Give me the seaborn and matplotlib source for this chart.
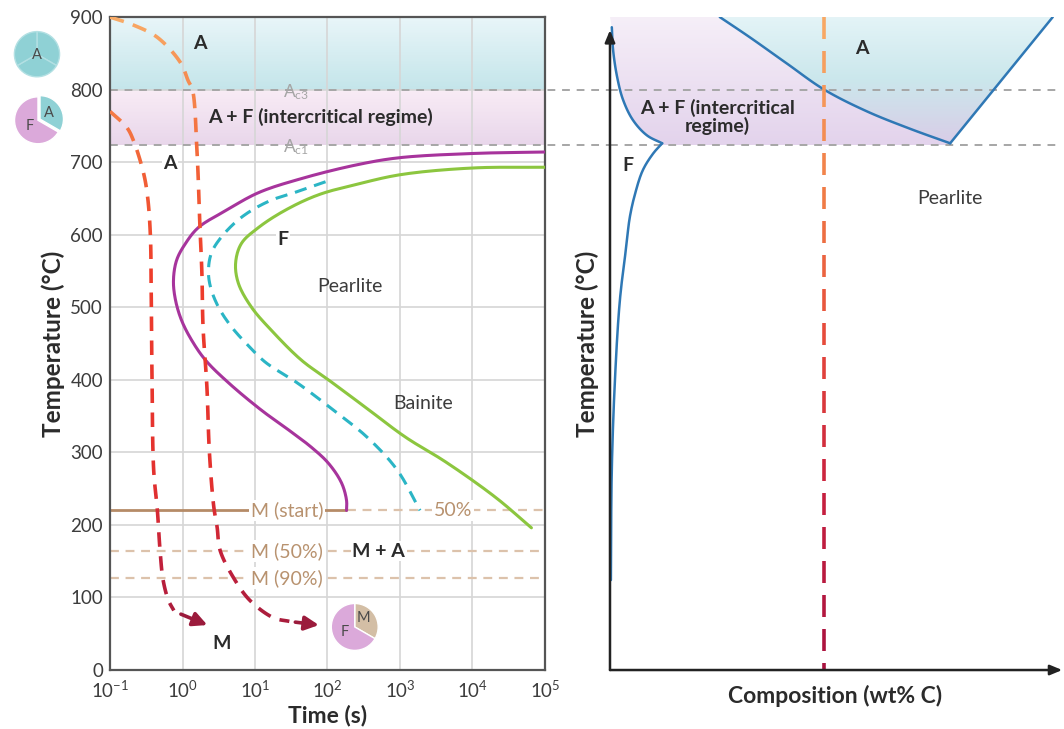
import numpy as np
import matplotlib
matplotlib.use("Agg")
import matplotlib.pyplot as plt
import matplotlib.transforms as mtransforms
from matplotlib.collections import LineCollection
from matplotlib.colors import LinearSegmentedColormap
from matplotlib.lines import Line2D
from matplotlib.patches import Polygon
from matplotlib.ticker import NullLocator
import seaborn as sns

# ---------------- data ----------------
# left panel: cooling paths (time s, temperature C)
fast_t = [0.10, 0.17, 0.21, 0.29, 0.33, 0.36, 0.37, 0.38, 0.40, 0.45, 0.49, 0.54, 0.64, 0.76]
fast_T = [770, 748, 730, 685, 652, 600, 520, 400, 276, 220, 165, 124, 96, 82]
fast_arrow_t = [0.95, 2.2]
fast_arrow_T = [77, 62]

slow_t = [0.10, 0.21, 0.45, 0.94, 1.20, 1.37, 1.58, 1.74, 1.85, 1.92, 2.17, 2.35,
          2.7, 3.0, 3.3, 5.0, 8.5, 18, 30]
slow_T = [900, 889, 872, 837, 812, 800, 717, 611, 547, 473, 390, 300,
          225, 197, 165, 128, 96, 72, 67]
slow_arrow_t = [36, 76]
slow_arrow_T = [66, 62]

# transformation curves
ferrite_t = [1e5, 10300, 955, 244, 46, 11.2, 3.92, 1.66, 1.10, 0.83, 0.75, 0.80,
             0.97, 1.33, 2.08, 4.3, 12.3, 29, 60, 103, 156, 183, 183]
ferrite_T = [714, 712, 706, 696, 678, 658, 633, 610, 588, 565, 537, 510,
             482, 455, 427, 396, 358, 331, 307, 285, 258, 234, 220]
half_t = [94, 40, 15.4, 6.5, 3.45, 2.51, 2.28, 2.43, 3.14, 4.74, 8.1, 14, 38, 108, 351, 910, 1890]
half_T = [673, 660, 646, 624, 597, 575, 551, 528, 500, 473, 447, 424, 396, 362, 321, 276, 220]
pearlite_t = [1e5, 10200, 1050, 266, 75, 26.4, 11.2, 6.5, 5.4, 5.9, 8.95, 16.9,
              43.8, 103, 335, 1190, 4240, 20800, 65000]
pearlite_T = [693, 692, 683, 670, 655, 634, 610, 588, 561, 533, 500, 468,
              427, 400, 362, 321, 287, 238, 196]

# critical temperatures and martensite lines
Ac3, Ac1 = 800, 723
m_levels = [220, 164, 127]
m_labels = ["M (start)", "M (50%)", "M (90%)"]
ms_end_t = 183

# right panel: phase diagram (composition in relative units, temperature C)
a3_left_x = [0.004, 0.007, 0.016, 0.029, 0.051, 0.082, 0.116]
a3_left_T = [886, 854, 817, 786, 758, 737, 726]
solvus_x = [0.116, 0.096, 0.073, 0.056, 0.044, 0.036, 0.022, 0.011, 0.004, 0.002]
solvus_T = [726, 712, 689, 657, 624, 583, 510, 400, 276, 124]
a3_x = [0.244, 0.311, 0.393, 0.476, 0.571, 0.667, 0.756]
a3_T = [900, 872, 836, 800, 770, 746, 726]
acm_x = [0.756, 0.984]
acm_T = [726, 900]
alloy_x = 0.476

xticks = [10.0 ** k for k in range(-1, 6)]
yticks = list(range(0, 901, 100))

# ---------------- style ----------------
sns.set_theme(style="white")
plt.rcParams["font.family"] = ["Lato", "DejaVu Sans"]
plt.rcParams["mathtext.fontset"] = "custom"
plt.rcParams["mathtext.rm"] = "Lato"
plt.rcParams["mathtext.it"] = "Lato:italic"
plt.rcParams["mathtext.bf"] = "Lato:bold"

DARK = "#2b2b2b"
GREY = "#a6a6a6"
CYAN = "#8fd1d5"
LAV = "#dba9da"
TAN = "#d3bea5"
BROWN = "#b58b67"
BROWN_TXT = "#b8926f"
MAROON = "#9b1b3c"
BLUE = "#2f78b5"
FS = 14

cool_cmap = LinearSegmentedColormap.from_list(
    "cool", [(0.0, "#951a3c"), (140 / 900, "#bf1f3c"), (250 / 900, "#e2302f"),
             (550 / 900, "#ee3d2b"), (700 / 900, "#f26438"), (800 / 900, "#f5854c"),
             (1.0, "#f8aa66")])
alloy_cmap = LinearSegmentedColormap.from_list(
    "alloy", [(0.0, "#a8123f"), (250 / 900, "#c8203f"), (450 / 900, "#e5483a"),
              (650 / 900, "#f07a45"), (1.0, "#f8ab66")])


def catmull(P, n=16, alpha=0.5):
    # centripetal Catmull-Rom through the read points (drawing only)
    P = np.asarray(P, float)
    ext = np.vstack([2 * P[0] - P[1], P, 2 * P[-1] - P[-2]])
    out = []
    for i in range(1, len(ext) - 2):
        p0, p1, p2, p3 = ext[i - 1], ext[i], ext[i + 1], ext[i + 2]
        t0 = 0.0
        t1 = t0 + max(np.hypot(*(p1 - p0)), 1e-6) ** alpha
        t2 = t1 + max(np.hypot(*(p2 - p1)), 1e-6) ** alpha
        t3 = t2 + max(np.hypot(*(p3 - p2)), 1e-6) ** alpha
        t = np.linspace(t1, t2, n, endpoint=False)[:, None]
        A1 = (t1 - t) / (t1 - t0) * p0 + (t - t0) / (t1 - t0) * p1
        A2 = (t2 - t) / (t2 - t1) * p1 + (t - t1) / (t2 - t1) * p2
        A3 = (t3 - t) / (t3 - t2) * p2 + (t - t2) / (t3 - t2) * p3
        B1 = (t2 - t) / (t2 - t0) * A1 + (t - t0) / (t2 - t0) * A2
        B2 = (t3 - t) / (t3 - t1) * A2 + (t - t1) / (t3 - t1) * A3
        out.append((t2 - t) / (t2 - t1) * B1 + (t - t1) / (t2 - t1) * B2)
    out.append(P[-1:])
    return np.vstack(out)


def smooth(ax, x, y):
    P = ax.transData.transform(np.column_stack([x, y]))
    D = ax.transData.inverted().transform(catmull(P))
    return D[:, 0], D[:, 1]


def dashed_gradient(ax, x, y, cmap, on, off, lw, zorder=5):
    # dashes laid out in pixels, each dash coloured by its temperature
    P = catmull(ax.transData.transform(np.column_stack([x, y])))
    d = np.hypot(*np.diff(P, axis=0).T)
    s = np.r_[0, np.cumsum(d)]
    ss = np.arange(0, s[-1], 0.5)
    pts = np.column_stack([np.interp(ss, s, P[:, 0]), np.interp(ss, s, P[:, 1])])
    mask = (ss % (on + off)) < on
    edges = np.flatnonzero(np.diff(np.r_[0, mask.astype(int), 0]))
    segs, cols = [], []
    inv = ax.transData.inverted()
    for a, b in zip(edges[::2], edges[1::2]):
        if b - a < 2:
            continue
        seg = inv.transform(pts[a:b])
        segs.append(seg)
        cols.append(cmap(np.clip(seg[:, 1].mean() / 900, 0, 1)))
    ax.add_collection(LineCollection(segs, colors=cols, linewidths=lw,
                                     capstyle="butt", zorder=zorder))


def gradient_band(ax, y0, y1, c_bottom, c_top, n=40):
    cm = LinearSegmentedColormap.from_list("band", [c_bottom, c_top])
    edges = np.linspace(y0, y1, n + 1)
    for i in range(n):
        ax.axhspan(edges[i], edges[i + 1], color=cm(i / (n - 1)), lw=0, zorder=0)


def gradient_fill(ax, px, py, colors, zorder=1):
    cm = LinearSegmentedColormap.from_list("fill", colors)
    grad = np.linspace(0, 1, 256)[:, None]
    im = ax.imshow(grad, cmap=cm, origin="lower", aspect="auto", zorder=zorder,
                   extent=[min(px), max(px), min(py), max(py)])
    patch = Polygon(np.column_stack([px, py]), closed=True, fc="none", ec="none")
    ax.add_patch(patch)
    im.set_clip_path(patch)


def pie(rect, vals, colors, labels, explode=None, edge="white"):
    pa = fig.add_axes(rect)
    pa.pie(vals, colors=colors, startangle=90, counterclock=False, explode=explode,
           wedgeprops=dict(edgecolor=edge, linewidth=1.0))
    for (lx, ly, txt) in labels:
        pa.text(lx, ly, txt, ha="center", va="center", fontsize=10.5, color="#4a4a4a")
    pa.set_xlim(-1.15, 1.15)
    pa.set_ylim(-1.15, 1.15)
    pa.axis("off")


# ---------------- figure ----------------
fig = plt.figure(figsize=(10.64, 7.29), dpi=100)
ax = fig.add_axes([0.1034, 0.0809, 0.4088, 0.8957])
ax2 = fig.add_axes([0.5733, 0.0809, 0.4229, 0.8957])
ax2.set_facecolor("none")

# left panel: axes
ax.set_xscale("log")
ax.set_xlim(0.1, 1e5)
ax.set_ylim(0, 900)
ax.set_xticks(xticks)
ax.set_yticks(yticks)
ax.xaxis.set_minor_locator(NullLocator())
ax.set_axisbelow(True)
ax.grid(True, color="#d6d6d6", lw=1.2)
ax.tick_params(direction="in", length=7, width=1.3, color="#555555",
               labelsize=13.5, labelcolor="#3c3c3c")
ax.tick_params(axis="x", pad=7)
ax.tick_params(axis="y", pad=5)
for sp in ax.spines.values():
    sp.set_color("#555555")
    sp.set_linewidth(1.6)

gradient_band(ax, Ac3, 900, "#c4e5ea", "#e8f5f8")
gradient_band(ax, Ac1, Ac3, "#e8d6ea", "#f8ebf5")

# critical lines running across both panels
blend = mtransforms.blended_transform_factory(fig.transFigure, ax.transData)
x_left = ax.get_position().x0
x_right = ax2.get_position().x0
for lvl in (Ac3, Ac1):
    ax.add_line(Line2D([x_left, x_right], [lvl, lvl], transform=blend, color=GREY,
                       lw=1.4, ls=(0, (4, 3.5)), clip_on=False, zorder=1))
ax.text(24.3, Ac3 - 3, r"A$_{\rm c3}$", color=GREY, fontsize=12.5, va="center", zorder=2)
ax.text(24.3, Ac1 - 2, r"A$_{\rm c1}$", color=GREY, fontsize=12.5, va="center", zorder=2)

# martensite lines
ax.hlines(m_levels[0], 0.1, ms_end_t, color=BROWN, lw=2, zorder=2)
ax.hlines(m_levels[0], ms_end_t, 1e5, color="#dcc2ab", lw=1.6, ls=(0, (4, 3)), zorder=2)
for lvl in m_levels[1:]:
    ax.hlines(lvl, 0.1, 1e5, color="#dcc2ab", lw=1.6, ls=(0, (4, 3)), zorder=2)
for lvl, lab in zip(m_levels, m_labels):
    ax.text(27.6, lvl, lab, color=BROWN_TXT, fontsize=FS, ha="center", va="center",
            zorder=3, bbox=dict(fc="white", ec="none", pad=1.2))
ax.text(5400, m_levels[0], "50%", color=BROWN_TXT, fontsize=FS, ha="center", va="center",
        zorder=3, bbox=dict(fc="white", ec="none", pad=1.2))
ax.text(510, m_levels[1], "M + A", color=DARK, fontsize=FS, fontweight="bold",
        ha="center", va="center", zorder=3, bbox=dict(fc="white", ec="none", pad=1.2))

# transformation curves
for xs, ys, col in [(ferrite_t, ferrite_T, "#a7349c"), (pearlite_t, pearlite_T, "#8cc63f")]:
    sx, sy = smooth(ax, xs, ys)
    sns.lineplot(x=sx, y=sy, sort=False, estimator=None, color=col, lw=2.2, ax=ax, zorder=4)
sx, sy = smooth(ax, half_t, half_T)
sns.lineplot(x=sx, y=sy, sort=False, estimator=None, color="#2bb5c5", lw=2.2,
             ls=(0, (4, 2.6)), ax=ax, zorder=4)

# cooling paths
dashed_gradient(ax, fast_t, fast_T, cool_cmap, on=15, off=9, lw=2.6, zorder=6)
dashed_gradient(ax, slow_t, slow_T, cool_cmap, on=15, off=9, lw=2.6, zorder=6)
for at, aT in [(fast_arrow_t, fast_arrow_T), (slow_arrow_t, slow_arrow_T)]:
    ax.annotate("", xy=(at[1], aT[1]), xytext=(at[0], aT[0]), zorder=6,
                arrowprops=dict(arrowstyle="-|>,head_length=0.7,head_width=0.35",
                                color=MAROON, lw=2.6, shrinkA=0, shrinkB=0))

ax.set_xlabel("Time (s)", fontsize=16.5, fontweight="bold", color=DARK, labelpad=3)
ax.set_ylabel("Temperature (°C)", fontsize=17.5, fontweight="bold", color=DARK, labelpad=4)

# left panel labels
bold = dict(fontsize=FS, fontweight="bold", color=DARK, ha="center", va="center", zorder=3)
ax.text(1.74, 864, "A", **bold)
ax.text(79, 762, "A + F (intercritical regime)", **bold)
ax.text(0.67, 698, "A", bbox=dict(fc="white", ec="none", pad=1), **bold)
ax.text(24.3, 593, "F", bbox=dict(fc="white", ec="none", pad=1), **bold)
ax.text(3.5, 37, "M", **bold)
ax.text(204, 528, "Pearlite", fontsize=FS, color="#3c3c3c", ha="center", va="center")
ax.text(2090, 368, "Bainite", fontsize=FS, color="#3c3c3c", ha="center", va="center")

# right panel
ax2.set_xlim(0, 1)
ax2.set_ylim(0, 900)
ax2.set_xticks([])
ax2.set_yticks([])
for sp in ax2.spines.values():
    sp.set_visible(False)

lav_x = [0] + a3_x + [a3_x[-1], a3_left_x[-1]] + a3_left_x[::-1]
lav_T = [900] + a3_T + [Ac1, Ac1] + a3_left_T[::-1]
gradient_fill(ax2, lav_x, lav_T, ["#e3d3ec", "#f6eff8"], zorder=1)
gradient_fill(ax2, a3_x + [acm_x[-1]], a3_T + [acm_T[-1]],
              ["#d9cde7", "#cbe7ec", "#e4f4f7"], zorder=1)

for lvl in (Ac3, Ac1):
    ax2.axhline(lvl, color=GREY, lw=1.4, ls=(0, (4, 3.5)), zorder=2)

for xs, ys in [(a3_left_x, a3_left_T), (solvus_x, solvus_T), (a3_x, a3_T), (acm_x, acm_T)]:
    sx, sy = smooth(ax2, xs, ys)
    sns.lineplot(x=sx, y=sy, sort=False, estimator=None, color=BLUE, lw=1.8, ax=ax2, zorder=3)

dashed_gradient(ax2, [alloy_x, alloy_x], [900, 0], alloy_cmap, on=22, off=12, lw=2.6, zorder=4)

arrow = dict(arrowstyle="-|>,head_length=0.6,head_width=0.25", color="#222222",
             lw=1.8, shrinkA=0, shrinkB=0)
ax2.annotate("", xy=(0, 0.98), xytext=(0, 0), xycoords="axes fraction", arrowprops=arrow, zorder=5)
ax2.annotate("", xy=(1.005, 0), xytext=(0, 0), xycoords="axes fraction", arrowprops=arrow, zorder=5)

ax2.set_xlabel("Composition (wt% C)", fontsize=16.5, fontweight="bold", color=DARK,
               labelpad=11, visible=True)
ax2.set_ylabel("Temperature (°C)", fontsize=17.5, fontweight="bold", color=DARK,
               labelpad=8, visible=True)

ax2.text(0.56, 857, "A", **bold)
ax2.text(0.238, 762, "A + F (intercritical\nregime)", linespacing=1.0, **bold)
ax2.text(0.04, 696, "F", **bold)
ax2.text(0.756, 650, "Pearlite", fontsize=FS, color="#3c3c3c", ha="center", va="center")

# phase-fraction pies
pie([0.0103, 0.890, 0.0489, 0.0713], [1, 1, 1], [CYAN] * 3, [(0, -0.05, "A")], edge="#b3e0e3")
pie([0.0103, 0.798, 0.0508, 0.074], [1, 2], [CYAN, LAV],
    [(0.45, 0.3, "A"), (-0.37, -0.26, "F")], explode=[0.1, 0])
pie([0.308, 0.103, 0.0508, 0.074], [1, 2], [TAN, LAV],
    [(0.37, 0.37, "M"), (-0.44, -0.22, "F")])

fig.savefig("out.png", dpi=100)
